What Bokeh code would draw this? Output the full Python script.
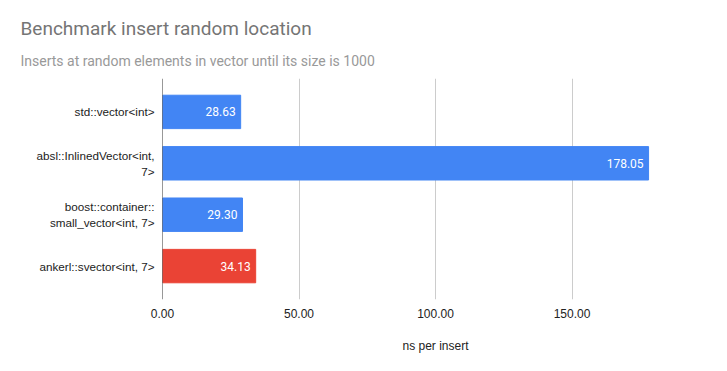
from bokeh.plotting import figure
from bokeh.models import ColumnDataSource, Range1d, Span, LabelSet, FixedTicker, Title
from bokeh.core.properties import value
from bokeh.embed import file_html
from bokeh.resources import INLINE

title_text = "Benchmark insert random location"
subtitle_text = "Inserts at random elements in vector until its size is 1000"
categories = ["std::vector<int>", "absl::InlinedVector<int,\n7>",
              "boost::container::\nsmall_vector<int, 7>", "ankerl::svector<int, 7>"]
values = [28.63, 178.05, 29.30, 34.13]
colors = ["#4285F4", "#4285F4", "#4285F4", "#EA4335"]
x_ticks = [0, 50, 100, 150, 200]
x_tick_labels = ["0.00", "50.00", "100.00", "150.00", ""]

n = len(categories)
ypos = [n - 1 - i for i in range(n)]
src = ColumnDataSource(dict(y=ypos, v=values, c=colors,
                            t=["%.2f" % v for v in values]))

p = figure(width=711, height=355, output_backend="svg", toolbar_location=None,
           x_range=Range1d(0, 200), y_range=Range1d(-0.65, n - 1 + 0.65),
           min_border_left=162, min_border_right=3, min_border_top=78,
           min_border_bottom=56, title=None)
p.outline_line_color = None
p.background_fill_color = "white"
p.border_fill_color = "white"

p.hbar(y="y", right="v", left=0, height=0.65, color="c", source=src)

p.add_layout(LabelSet(x="v", y="y", text="t", source=src, x_offset=-5,
                      text_align="right", text_baseline="middle",
                      text_color="white", text_font=value("Roboto"),
                      text_font_size="12px"))

# x axis
p.xaxis.ticker = FixedTicker(ticks=x_ticks)
p.xaxis.major_label_overrides = {t: l for t, l in zip(x_ticks, x_tick_labels)}
p.xaxis.axis_line_color = None
p.xaxis.major_tick_line_color = None
p.xaxis.minor_tick_line_color = None
p.xaxis.major_label_standoff = 3
p.xaxis.major_label_text_font = "Liberation Sans"
p.xaxis.major_label_text_font_size = "12px"
p.xaxis.major_label_text_color = "#222222"
p.xaxis.axis_label = "ns per insert"
p.xaxis.axis_label_text_font = "Liberation Sans"
p.xaxis.axis_label_text_font_style = "normal"
p.xaxis.axis_label_text_font_size = "12px"
p.xaxis.axis_label_text_color = "#222222"
p.xaxis.axis_label_standoff = 18

# y axis
p.yaxis.ticker = FixedTicker(ticks=ypos)
p.yaxis.major_label_overrides = {y: c for y, c in zip(ypos, categories)}
p.yaxis.axis_line_color = None
p.yaxis.major_tick_line_color = None
p.yaxis.minor_tick_line_color = None
p.yaxis.major_label_standoff = 2
p.yaxis.major_label_text_font = "Liberation Sans"
p.yaxis.major_label_text_font_size = "11.7px"
p.yaxis.major_label_text_color = "#222222"

p.xgrid.ticker = FixedTicker(ticks=x_ticks[1:])
p.xgrid.grid_line_color = "#cccccc"
p.ygrid.grid_line_color = None

p.add_layout(Span(location=0, dimension="height", line_color="#333333", line_width=1))

p.add_layout(Title(text=subtitle_text, align="left", offset=-142,
                   text_font="Roboto", text_font_size="14px",
                   text_font_style="normal", text_color="#999999",
                   standoff=19), "above")
p.add_layout(Title(text=title_text, align="left", offset=-142,
                   text_font="Roboto", text_font_size="19px",
                   text_font_style="normal", text_color="#757575",
                   standoff=4), "above")

open("out.html", "w").write(file_html(p, INLINE))
